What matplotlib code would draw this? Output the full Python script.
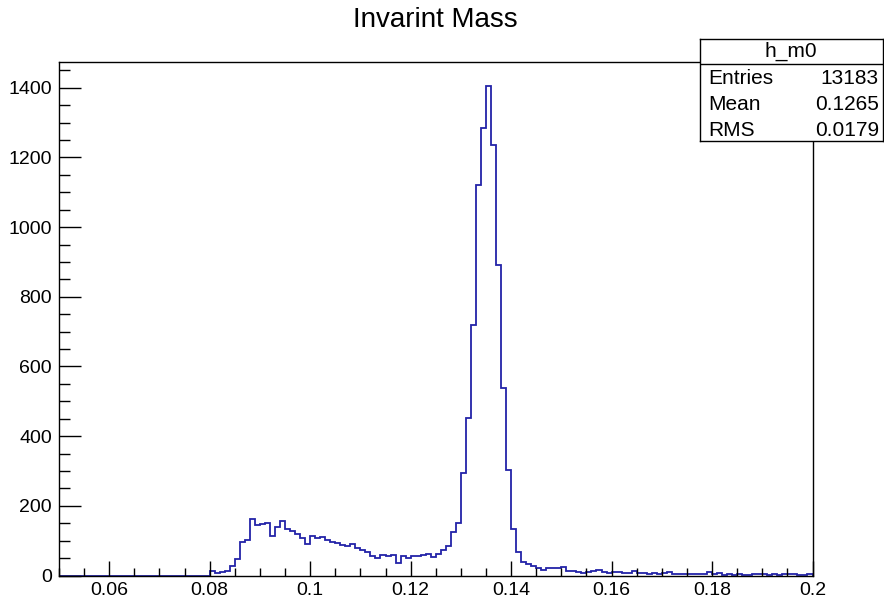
import numpy as np
import matplotlib
matplotlib.use("Agg")
import matplotlib.pyplot as plt
from matplotlib.ticker import MultipleLocator, FixedLocator

plt.rcParams['font.family'] = ['Liberation Sans', 'DejaVu Sans']

# ---- data ----
title = "Invarint Mass"
hist_name = "h_m0"
x_min, x_max, n_bins = 0.05, 0.2, 150
first_filled_bin = 30  # bin starting at 0.080
counts_filled = [
    12, 8, 10, 14, 28, 46, 97, 101, 163, 146,
    148, 152, 113, 140, 157, 133, 128, 118, 107, 90,
    113, 108, 110, 103, 97, 92, 88, 85, 90, 80,
    73, 68, 56, 50, 60, 56, 60, 37, 57, 51,
    55, 55, 59, 62, 54, 62, 74, 86, 125, 150,
    293, 452, 718, 1121, 1284, 1404, 1237, 892, 537, 304,
    134, 68, 40, 33, 27, 22, 16, 21, 21, 21,
    25, 12, 12, 11, 7, 9, 13, 16, 10, 7,
    11, 11, 8, 8, 13, 6, 6, 4, 7, 5,
    8, 9, 4, 4, 4, 4, 4, 4, 5, 11,
    4, 6, 1, 4, 1, 4, 1, 1, 4, 4,
    4, 1, 4, 1, 4, 4, 4, 1, 2, 3,
]
stat_labels = ["Entries", "Mean", "RMS"]
stat_values = ["13183", "0.1265", "0.0179"]
x_ticks = [0.06, 0.08, 0.1, 0.12, 0.14, 0.16, 0.18, 0.2]
x_tick_labels = ["0.06", "0.08", "0.1", "0.12", "0.14", "0.16", "0.18", "0.2"]
y_ticks = [0, 200, 400, 600, 800, 1000, 1200, 1400]
y_max = 1474

counts = np.zeros(n_bins)
counts[first_filled_bin:first_filled_bin + len(counts_filled)] = counts_filled
edges = np.linspace(x_min, x_max, n_bins + 1)

W, H = 884, 604
fig = plt.figure(figsize=(W / 100, H / 100), dpi=100)
fig.patch.set_facecolor('white')

L, R, T, B = 59, 812.5, 62, 575.5
ax = fig.add_axes([L / W, (H - B) / H, (R - L) / W, (B - T) / H])
ax.stairs(counts, edges, color='#2323a8', linewidth=1.3, baseline=0)
ax.set_xlim(x_min, x_max)
ax.set_ylim(0, y_max)

ax.xaxis.set_major_locator(FixedLocator(x_ticks))
ax.set_xticklabels(x_tick_labels)
ax.xaxis.set_minor_locator(MultipleLocator(0.005))
ax.yaxis.set_major_locator(FixedLocator(y_ticks))
ax.yaxis.set_minor_locator(MultipleLocator(50))

ax.tick_params(axis='x', which='major', direction='in', length=10.8, width=1.0,
               labelsize=14, pad=5, top=False)
ax.tick_params(axis='x', which='minor', direction='in', length=6.0, width=1.0, top=False)
ax.tick_params(axis='y', which='major', direction='in', length=15.8, width=1.0,
               labelsize=14, pad=5, right=False)
ax.tick_params(axis='y', which='minor', direction='in', length=7.9, width=1.0, right=False)
for s in ax.spines.values():
    s.set_linewidth(1.0)
    s.set_color('black')

fig.text(435 / W, 1 - 20 / H, title, ha='center', va='center', fontsize=20)

# stats box
bx0, bx1, by0, by1 = 699.5, 882.5, 39, 141
bax = fig.add_axes([bx0 / W, (H - by1) / H, (bx1 - bx0) / W, (by1 - by0) / H])
bax.set_xlim(0, 1)
bax.set_ylim(0, 1)
bax.set_xticks([])
bax.set_yticks([])
bax.set_facecolor('white')
for s in bax.spines.values():
    s.set_linewidth(1.0)
    s.set_color('black')
hy = (by1 - 63.5) / (by1 - by0)
bax.plot([0, 1], [hy, hy], color='black', linewidth=1.0)
bax.text(0.5, (by1 - 51) / (by1 - by0), hist_name, ha='center', va='center', fontsize=15)
row_y = [78, 105, 130]
for lab, val, yy in zip(stat_labels, stat_values, row_y):
    fy = (by1 - yy) / (by1 - by0)
    bax.text((708 - bx0) / (bx1 - bx0), fy, lab, ha='left', va='center', fontsize=15)
    bax.text((879 - bx0) / (bx1 - bx0), fy, val, ha='right', va='center', fontsize=15)

fig.savefig("out.png", dpi=100)
